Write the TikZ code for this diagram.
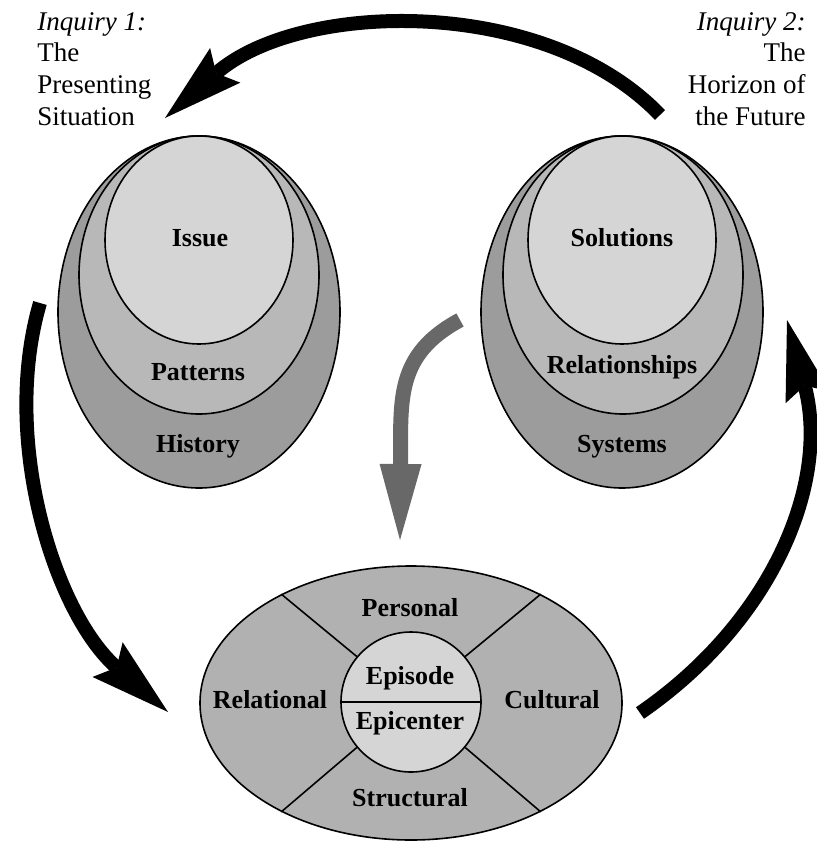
\documentclass[tikz,border=0pt]{standalone}
\usepackage{fontspec}
\setmainfont{Liberation Serif}
\usepackage{tikz}
\usetikzlibrary{arrows.meta,shapes.geometric}

\definecolor{ringdark}{HTML}{9C9C9C}
\definecolor{ringmid}{HTML}{B8B8B8}
\definecolor{ringlight}{HTML}{D5D5D5}
\definecolor{ctxgray}{HTML}{B1B1B1}
\definecolor{arrowgray}{HTML}{686868}

\tikzset{
  ring/.style={ellipse, draw, line width=0.8pt, inner sep=0pt},
  lbl/.style={font=\fontsize{13}{15}\selectfont\bfseries, inner sep=0pt},
  corner/.style={font=\fontsize{13.5}{15.8}\selectfont, inner sep=0pt},
  bigarrow/.style={line width=7pt, -{Stealth[length=40pt,width=23pt,inset=6pt,line width=0pt]}},
}

\begin{document}
\begin{tikzpicture}[x=0.5pt, y=-0.5pt]
  \useasboundingbox (0,0) rectangle (817,845);

  % Corner titles
  \node[corner, anchor=north west, align=left] (inq1) at (37,12) {\textit{Inquiry 1:}\\The\\Presenting\\Situation};
  \node[corner, anchor=north east, align=right] (inq2) at (806,12) {\textit{Inquiry 2:}\\The\\Horizon of\\the Future};

  % Inquiry 1 rings
  \node[ring, fill=ringdark, minimum width=141pt, minimum height=176pt] (history) at (199,312) {};
  \node[ring, fill=ringmid, minimum width=120pt, minimum height=139pt] (patterns) at (199,275) {};
  \node[ring, fill=ringlight, minimum width=94pt, minimum height=104pt] (issue) at (199,240) {};
  \node[lbl] (issuetxt) at (200,238) {Issue};
  \node[lbl] (patterntxt) at (198,372) {Patterns};
  \node[lbl] (historytxt) at (198,446) {History};

  % Inquiry 2 rings
  \node[ring, fill=ringdark, minimum width=141pt, minimum height=176pt] (systems) at (622,312) {};
  \node[ring, fill=ringmid, minimum width=120pt, minimum height=139pt] (relations) at (623,275) {};
  \node[ring, fill=ringlight, minimum width=94pt, minimum height=104pt] (solutions) at (622,240) {};
  \node[lbl] (solutiontxt) at (622,238) {Solutions};
  \node[lbl] (relationtxt) at (622,367) {Relationships};
  \node[lbl] (systemtxt) at (622,447) {Systems};

  % Context ellipse with epicenter
  \node[ring, fill=ctxgray, minimum width=211pt, minimum height=137pt] (context) at (411,703) {};
  \node[circle, draw, fill=ringlight, line width=0.8pt, minimum size=70pt, inner sep=0pt] (epi) at (411,702) {};
  \foreach \a in {40,140,220,320} { \draw[line width=0.8pt] (epi.\a) -- (context.\a); }
  \draw[line width=1.3pt] (epi.west) -- (epi.east);
  \node[lbl] (personal) at (410,608) {Personal};
  \node[lbl] (relational) at (270,700) {Relational};
  \node[lbl] (cultural) at (552,700) {Cultural};
  \node[lbl] (structural) at (410,798) {Structural};
  \node[lbl] (episode) at (410,678) {Episode};
  \node[lbl] (epicenter) at (410,723) {Epicenter};

  % Cycle arrows
  \coordinate (topA) at (660,115);
  \coordinate (topB) at (165,118);
  \coordinate (leftA) at (40,303);
  \coordinate (leftB) at (168,712);
  \coordinate (rightA) at (640,713);
  \coordinate (rightB) at (787,320);
  \coordinate (greyA) at (460,320);
  \coordinate (greyB) at (400,540);
  \draw[bigarrow] (topA) .. controls (545,-5) and (300,0) .. (topB);
  \draw[bigarrow] (leftA) .. controls (0,440) and (55,614) .. (leftB);
  \draw[bigarrow] (rightA) .. controls (775,620) and (830,480) .. (rightB);
  \draw[line width=7.5pt, arrowgray, -{Triangle[length=38pt,width=21pt,line width=0pt]}] (greyA) .. controls (395,355) and (401,400) .. (greyB);
\end{tikzpicture}
\end{document}
